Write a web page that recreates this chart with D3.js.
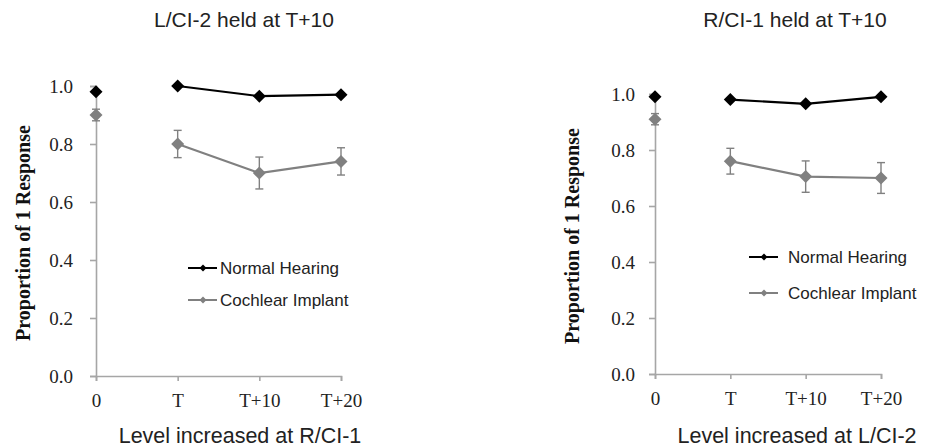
<!DOCTYPE html>
<html><head><meta charset="utf-8">
<script src="https://cdn.jsdelivr.net/npm/d3@7"></script>
<style>body{margin:0;background:#fff;} svg{display:block;}</style>
</head><body>
<svg id="chart" width="932" height="448"></svg>
<script>
// ---- data ----
const categories = ["0", "T", "T+10", "T+20"];
const yTicks = [0, 0.2, 0.4, 0.6, 0.8, 1.0];
const seriesNames = ["Normal Hearing", "Cochlear Implant"];

const leftTitle = "L/CI-2 held at T+10";
const leftXTitle = "Level increased at R/CI-1";
const leftNH = [0.98, 1.0, 0.965, 0.97];
const leftCI = [0.90, 0.80, 0.70, 0.74];
const leftCIErr = [0.02, 0.047, 0.055, 0.047];

const rightTitle = "R/CI-1 held at T+10";
const rightXTitle = "Level increased at L/CI-2";
const rightNH = [0.99, 0.98, 0.965, 0.99];
const rightCI = [0.91, 0.76, 0.705, 0.70];
const rightCIErr = [0.02, 0.046, 0.056, 0.055];

const yTitle = "Proportion of 1 Response";

// ---- layout ----
const panels = [
  {title: leftTitle, xTitle: leftXTitle, nh: leftNH, ci: leftCI, err: leftCIErr,
   x0: 96, x1: 341, yTop: 86, yBot: 376, titleX: 244, xTitleX: 240, yTitleX: 23, yTitleY: 233,
   yPad: 17, legX: 188, legY: [268, 300], textOff: 32},
  {title: rightTitle, xTitle: rightXTitle, nh: rightNH, ci: rightCI, err: rightCIErr,
   x0: 655, x1: 881, yTop: 94, yBot: 374, titleX: 795, xTitleX: 797, yTitleX: 572, yTitleY: 236,
   yPad: 14, legX: 749, legY: [257, 293], textOff: 39}
];

const svg = d3.select("#chart");
const axisColor = "#a6a6a6";
const nhColor = "#000000";
const ciColor = "#808080";
const serif = "'Liberation Serif','Times New Roman',serif";
const sans = "'Liberation Sans',Arial,sans-serif";

panels.forEach(p => {
  const g = svg.append("g");
  const x = d3.scalePoint().domain(categories).range([p.x0, p.x1]).padding(0);
  const y = d3.scaleLinear().domain([0, 1]).range([p.yBot, p.yTop]);

  const ya = g.append("g").attr("transform", `translate(${p.x0},0)`)
    .call(d3.axisLeft(y).tickValues(yTicks).tickFormat(d3.format(".1f")).tickSize(6).tickPadding(p.yPad));
  const xa = g.append("g").attr("transform", `translate(0,${p.yBot})`)
    .call(d3.axisBottom(x).tickSize(5).tickPadding(13));
  [ya, xa].forEach(a => {
    a.attr("font-family", serif).attr("font-size", 19);
    a.select(".domain").attr("stroke", axisColor).attr("stroke-width", 1.6);
    a.selectAll(".tick line").attr("stroke", axisColor).attr("stroke-width", 1.6);
    a.selectAll(".tick text").attr("fill", "#222").style("font-family", serif).style("font-size", "19px");
  });

  g.append("text").attr("x", p.titleX).attr("y", 27).attr("text-anchor", "middle")
    .style("font-family", sans).style("font-size", "21px").attr("fill", "#222").text(p.title);
  g.append("text").attr("x", p.xTitleX).attr("y", 443).attr("text-anchor", "middle")
    .style("font-family", sans).style("font-size", "21.5px").attr("fill", "#222").text(p.xTitle);
  g.append("text").attr("transform", `translate(${p.yTitleX + 7},${p.yTitleY}) rotate(-90)`)
    .attr("text-anchor", "middle").style("font-family", serif).style("font-weight", "bold")
    .style("font-size", "20px").attr("fill", "#111").text(yTitle);

  const idx = d3.range(categories.length);
  const line = d3.line().x(i => x(categories[i]));

  // CI error bars
  idx.forEach(i => {
    const cx = x(categories[i]);
    const top = y(p.ci[i] + p.err[i]), bot = y(p.ci[i] - p.err[i]);
    g.append("line").attr("x1", cx).attr("x2", cx).attr("y1", top).attr("y2", bot)
      .attr("stroke", ciColor).attr("stroke-width", 1.4);
    [top, bot].forEach(yy => g.append("line").attr("x1", cx - 4).attr("x2", cx + 4)
      .attr("y1", yy).attr("y2", yy).attr("stroke", ciColor).attr("stroke-width", 1.4));
  });

  // lines (connect T .. T+20 only)
  const conn = idx.slice(1);
  g.append("path").attr("d", line.y(i => y(p.ci[i]))(conn))
    .attr("fill", "none").attr("stroke", ciColor).attr("stroke-width", 2.2);
  g.append("path").attr("d", line.y(i => y(p.nh[i]))(conn))
    .attr("fill", "none").attr("stroke", nhColor).attr("stroke-width", 2.2);

  const drawDiamond = (cx, cy, color, r) => g.append("path")
    .attr("d", `M${cx},${cy - r}L${cx + r},${cy}L${cx},${cy + r}L${cx - r},${cy}Z`).attr("fill", color);
  idx.forEach(i => drawDiamond(x(categories[i]), y(p.ci[i]), ciColor, 6.5));
  idx.forEach(i => drawDiamond(x(categories[i]), y(p.nh[i]), nhColor, 6.5));

  // legend
  [nhColor, ciColor].forEach((c, k) => {
    const ly = p.legY[k];
    g.append("line").attr("x1", p.legX).attr("x2", p.legX + 29).attr("y1", ly).attr("y2", ly)
      .attr("stroke", c).attr("stroke-width", 2);
    drawDiamond(p.legX + 15, ly, c, 3.5);
    g.append("text").attr("x", p.legX + p.textOff)
      .attr("y", ly + 6).style("font-family", sans).style("font-size", "17px").attr("fill", "#222")
      .text(seriesNames[k]);
  });
});
</script>
</body></html>
